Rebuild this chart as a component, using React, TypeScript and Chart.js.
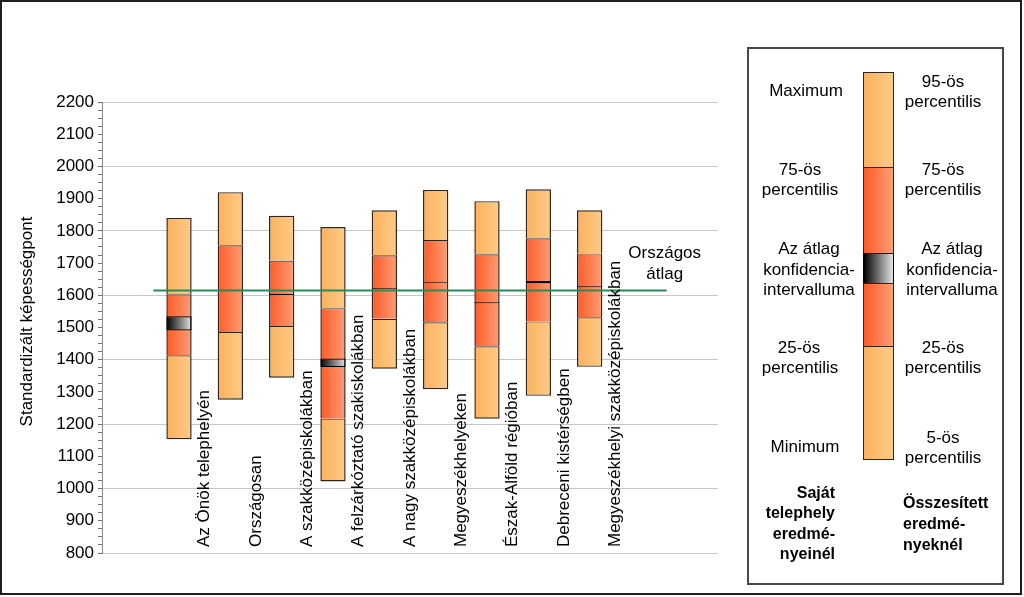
import React, { useEffect, useRef } from 'react';
import { Chart, registerables } from 'chart.js';
Chart.register(...registerables);

const categories = [
  'Az Önök telephelyén',
  'Országosan',
  'A szakközépiskolákban',
  'A felzárkóztató szakiskolákban',
  'A nagy szakközépiskolákban',
  'Megyeszékhelyeken',
  'Észak-Alföld régióban',
  'Debreceni kistérségben',
  'Megyeszékhelyi szakközépiskolákban',
];
const p5 = [1153, 1276, 1344, 1022, 1372, 1308, 1217, 1288, 1378];
const p25 = [1414, 1486, 1505, 1217, 1527, 1516, 1442, 1519, 1532];
const p75 = [1603, 1755, 1708, 1560, 1724, 1772, 1727, 1777, 1730];
const p95 = [1840, 1920, 1847, 1812, 1864, 1927, 1892, 1929, 1864];
const ciLow = [1491, 1613, 1601, 1377, 1620, 1639, 1575, 1637, 1625];
const ciHigh = [1535, 1617, 1604, 1404, 1623, 1641, 1578, 1644, 1628];
const nationalAvg = 1615;
const nationalLabel = ['Országos', 'átlag'];
const yTitle = 'Standardizált képességpont';
const yMin = 800;
const yMax = 2200;

const FONT = '"Liberation Sans", Arial, sans-serif';
const SLOTS = 12;
const BAR_PCT = 0.493;
const slotLabels = ['', ...categories, '', ''];
const pad = (arr: any[]) => [null, ...arr, null, null];
const ranges = (lo: number[], hi: number[]) => pad(lo.map((v, i) => [v, hi[i]]));

const LIGHT = ['#fbb15c', '#fecb88'];
const DARK = ['#ff5a26', '#ff9e76'];
const CI = ['#000000', '#e4e4e4'];
const EDGE = '#33241a';
const GREEN = '#2b8a57';

function barGradient(c: string[]) {
  return (ctx: any) => {
    const chart = ctx.chart;
    const xs = chart.scales && chart.scales.x;
    if (ctx.dataIndex === undefined || !xs || !chart.chartArea) return c[0];
    const cx = xs.getPixelForValue(ctx.dataIndex);
    const w = (xs.width / SLOTS) * BAR_PCT;
    if (!isFinite(cx) || !isFinite(w)) return c[0];
    const g = chart.ctx.createLinearGradient(cx - w / 2, 0, cx + w / 2, 0);
    g.addColorStop(0, c[0]);
    g.addColorStop(1, c[1]);
    return g;
  };
}

const textPlugin = {
  id: 'texts',
  afterDatasetsDraw(chart: any) {
    const { ctx } = chart;
    const x = chart.scales.x;
    const x2 = chart.scales.x2;
    const y = chart.scales.y;
    ctx.save();
    ctx.font = `17px ${FONT}`;
    ctx.fillStyle = '#000';
    const slotW = x.width / SLOTS;
    categories.forEach((c, i) => {
      const px = x.getPixelForValue(i + 1) + slotW / 2;
      ctx.save();
      ctx.translate(px, y.bottom - 6);
      ctx.rotate(-Math.PI / 2);
      ctx.textAlign = 'left';
      ctx.textBaseline = 'middle';
      ctx.fillText(c, 0, 0);
      ctx.restore();
    });
    // national average label
    ctx.textAlign = 'center';
    ctx.textBaseline = 'middle';
    const lx = x2.getPixelForValue(10.5) - 2;
    const ly = y.getPixelForValue(nationalAvg);
    ctx.fillText(nationalLabel[0], lx, ly - 37);
    ctx.fillText(nationalLabel[1], lx, ly - 16);
    // y title
    ctx.save();
    ctx.translate(27, (y.top + y.bottom) / 2 - 6);
    ctx.rotate(-Math.PI / 2);
    ctx.textAlign = 'center';
    ctx.textBaseline = 'middle';
    ctx.fillText(yTitle, 0, 0);
    ctx.restore();
    ctx.restore();
  },
};

const common = {
  type: 'bar' as const,
  grouped: false,
  barPercentage: BAR_PCT,
  categoryPercentage: 1,
  borderColor: EDGE,
  borderSkipped: false as const,
  xAxisID: 'x',
};

const legendLines: { t: string; cx: number; cy: number; bold?: boolean; align?: string }[] = [
  { t: 'Maximum', cx: 806, cy: 91 },
  { t: '75-ös', cx: 800, cy: 170 },
  { t: 'percentilis', cx: 800, cy: 190 },
  { t: 'Az átlag', cx: 809, cy: 249 },
  { t: 'konfidencia-', cx: 809, cy: 270 },
  { t: 'intervalluma', cx: 809, cy: 290 },
  { t: '25-ös', cx: 799, cy: 348 },
  { t: 'percentilis', cx: 800, cy: 368 },
  { t: 'Minimum', cx: 805, cy: 447 },
  { t: '95-ös', cx: 943, cy: 82 },
  { t: 'percentilis', cx: 943, cy: 102 },
  { t: '75-ös', cx: 943, cy: 170 },
  { t: 'percentilis', cx: 943, cy: 190 },
  { t: 'Az átlag', cx: 952, cy: 249 },
  { t: 'konfidencia-', cx: 952, cy: 270 },
  { t: 'intervalluma', cx: 952, cy: 290 },
  { t: '25-ös', cx: 943, cy: 348 },
  { t: 'percentilis', cx: 943, cy: 368 },
  { t: '5-ös', cx: 943, cy: 438 },
  { t: 'percentilis', cx: 943, cy: 458 },
  { t: 'Saját', cx: 835, cy: 493, bold: true, align: 'right' },
  { t: 'telephely', cx: 835, cy: 513, bold: true, align: 'right' },
  { t: 'eredmé-', cx: 835, cy: 534, bold: true, align: 'right' },
  { t: 'nyeinél', cx: 835, cy: 554, bold: true, align: 'right' },
  { t: 'Összesített', cx: 903, cy: 503, bold: true, align: 'left' },
  { t: 'eredmé-', cx: 903, cy: 524, bold: true, align: 'left' },
  { t: 'nyeknél', cx: 903, cy: 545, bold: true, align: 'left' },
];

const legendSegs = [
  { top: 72, bottom: 167, c: LIGHT },
  { top: 167, bottom: 253, c: DARK },
  { top: 253, bottom: 283, c: CI },
  { top: 283, bottom: 346, c: DARK },
  { top: 346, bottom: 459, c: LIGHT },
];

export default function App() {
  const ref = useRef<HTMLCanvasElement>(null);
  useEffect(() => {
    if (!ref.current) return;
    const chart = new Chart(ref.current, {
      data: {
        labels: slotLabels,
        datasets: [
          {
            ...common,
            label: 'Alsó',
            data: ranges(p5, p25) as any,
            backgroundColor: barGradient(LIGHT),
            borderWidth: { top: 1.2, bottom: 1.4, left: 1.5, right: 1.5 },
            order: 4,
          },
          {
            ...common,
            label: 'Középső',
            data: ranges(p25, p75) as any,
            backgroundColor: barGradient(DARK),
            borderWidth: { top: 1.2, bottom: 0, left: 1.5, right: 1.5 },
            order: 3,
          },
          {
            ...common,
            label: 'Felső',
            data: ranges(p75, p95) as any,
            backgroundColor: barGradient(LIGHT),
            borderWidth: { top: 1.4, bottom: 0, left: 1.5, right: 1.5 },
            order: 2,
          },
          {
            ...common,
            label: 'Konfidencia',
            data: ranges(ciLow, ciHigh) as any,
            backgroundColor: barGradient(CI),
            borderColor: '#000',
            borderWidth: { top: 1.2, bottom: 1.2, left: 1.5, right: 1.5 },
            order: 1,
          },
          {
            type: 'line',
            label: 'Országos átlag',
            xAxisID: 'x2',
            data: [
              { x: 0.5, y: nationalAvg },
              { x: 10.5, y: nationalAvg },
            ] as any,
            borderColor: GREEN,
            borderWidth: 2,
            pointRadius: 0,
            order: 0,
          },
        ] as any,
      },
      options: {
        responsive: false,
        animation: false,
        devicePixelRatio: 1,
        layout: { padding: { left: 0, top: 102, right: 306, bottom: 44 } },
        plugins: { legend: { display: false }, tooltip: { enabled: false } },
        scales: {
          x: { type: 'category', display: false, offset: true, grid: { display: false } },
          x2: { type: 'linear', display: false, min: -0.5, max: 11.5 },
          y: {
            min: yMin,
            max: yMax,
            afterFit: (s: any) => {
              s.width = 102;
            },
            ticks: {
              stepSize: 25,
              autoSkip: false,
              padding: 4,
              color: '#000',
              font: { family: FONT, size: 17 },
              callback: (v: any) => (Number(v) % 100 === 0 ? String(v) : ''),
            },
            grid: {
              color: (c: any) => (c.tick && c.tick.value % 200 === 0 ? '#c6c6c6' : 'rgba(0,0,0,0)'),
              tickColor: '#707070',
              tickLength: 4,
              drawTicks: true,
            },
            border: { color: '#8a8a8a', width: 1 },
          },
        },
      } as any,
      plugins: [textPlugin],
    });
    return () => chart.destroy();
  }, []);

  return (
    <div style={{ position: 'fixed', left: 0, top: 0, width: 1024, height: 597, background: '#fff', fontFamily: FONT }}>
      <canvas ref={ref} width={1024} height={597} style={{ position: 'absolute', left: 0, top: 0, width: 1024, height: 597 }} />
      <div
        style={{
          position: 'absolute', left: 747, top: 47, width: 257, height: 538,
          boxSizing: 'border-box', border: '2px solid #474747',
        }}
      />
      {legendSegs.map((s, i) => (
        <div
          key={i}
          style={{
            position: 'absolute', left: 863, top: s.top, width: 31, height: s.bottom - s.top + 1,
            boxSizing: 'border-box', border: `1px solid ${i === 2 ? '#000' : EDGE}`,
            background: `linear-gradient(to right, ${s.c[0]}, ${s.c[1]})`,
          }}
        />
      ))}
      {legendLines.map((l, i) => {
        const w = 200;
        const left = l.align === 'right' ? l.cx - w : l.align === 'left' ? l.cx : l.cx - w / 2;
        return (
          <div
            key={i}
            style={{
              position: 'absolute', left, top: l.cy - 10, width: w, height: 20, lineHeight: '20px',
              fontSize: l.bold ? 16 : 17, fontWeight: l.bold ? 'bold' : 'normal', color: '#000',
              textAlign: (l.align || 'center') as any, whiteSpace: 'nowrap',
            }}
          >
            {l.t}
          </div>
        );
      })}
      <div
        style={{
          position: 'absolute', left: 0, top: 0, width: 1022, height: 595,
          boxSizing: 'border-box', border: '2px solid #1e1e1e', pointerEvents: 'none',
        }}
      />
    </div>
  );
}
